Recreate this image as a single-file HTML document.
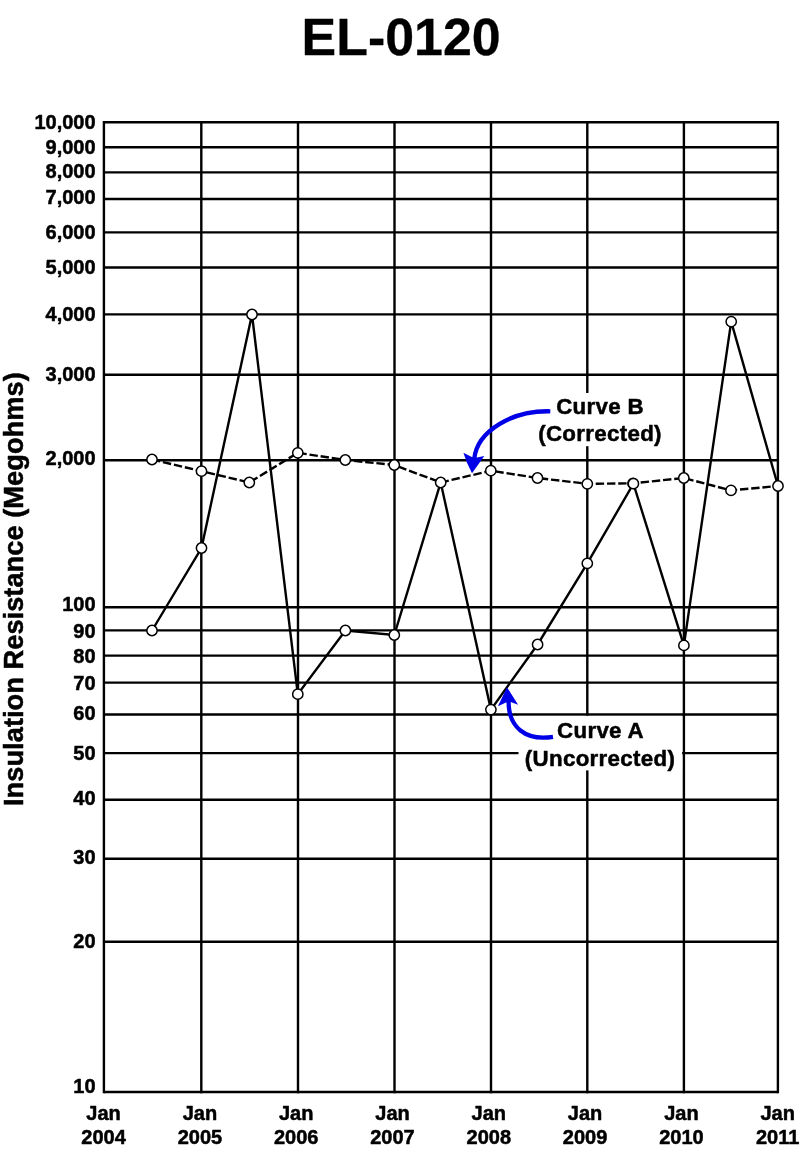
<!DOCTYPE html>
<html lang="en">
<head>
<meta charset="utf-8">
<title>EL-0120</title>
<style>
html,body{margin:0;padding:0;background:#fff;}
body{width:800px;height:1152px;overflow:hidden;}
svg{display:block;will-change:transform;}
text{font-family:"Liberation Sans",sans-serif;font-weight:bold;fill:#000;stroke:#000;stroke-width:0.5px;stroke-linejoin:round;}
.t{font-size:52.6px;stroke-width:0.3px;}
.y{font-size:20px;text-anchor:end;}
.x{font-size:20px;text-anchor:middle;}
.l{font-size:22.3px;text-anchor:middle;letter-spacing:0.32px;}
.ax{font-size:27.3px;text-anchor:middle;}
.g{stroke:#000;stroke-width:2.4;fill:none;}
.c{stroke:#000;stroke-width:2.4;fill:none;stroke-linejoin:miter;}
.p{stroke:#000;stroke-width:1.5;fill:#fff;}
.b{fill:#0000e6;}
.bs{stroke:#0000e6;stroke-width:4.3;fill:none;}
</style>
</head>
<body>
<svg width="800" height="1152" viewBox="0 0 800 1152">
<rect width="800" height="1152" fill="#fff"/>
<text class="t" transform="translate(401.1,54.6) scale(0.987,1)" text-anchor="middle">EL-0120</text>

<g class="g">
<line x1="103.9" y1="122.2" x2="777.9" y2="122.2"/>
<line x1="103.9" y1="147.2" x2="777.9" y2="147.2"/>
<line x1="103.9" y1="172.4" x2="777.9" y2="172.4"/>
<line x1="103.9" y1="199.0" x2="777.9" y2="199.0"/>
<line x1="103.9" y1="232.4" x2="777.9" y2="232.4"/>
<line x1="103.9" y1="267.5" x2="777.9" y2="267.5"/>
<line x1="103.9" y1="314.4" x2="777.9" y2="314.4"/>
<line x1="103.9" y1="374.7" x2="777.9" y2="374.7"/>
<line x1="103.9" y1="460.2" x2="777.9" y2="460.2"/>
<line x1="103.9" y1="607.2" x2="777.9" y2="607.2"/>
<line x1="103.9" y1="630.4" x2="777.9" y2="630.4"/>
<line x1="103.9" y1="655.6" x2="777.9" y2="655.6"/>
<line x1="103.9" y1="682.6" x2="777.9" y2="682.6"/>
<line x1="103.9" y1="714.5" x2="777.9" y2="714.5"/>
<line x1="103.9" y1="753.1" x2="777.9" y2="753.1"/>
<line x1="103.9" y1="799.7" x2="777.9" y2="799.7"/>
<line x1="103.9" y1="858.8" x2="777.9" y2="858.8"/>
<line x1="103.9" y1="941.7" x2="777.9" y2="941.7"/>
<line x1="103.9" y1="1092.0" x2="777.9" y2="1092.0"/>
<line x1="103.9" y1="121.0" x2="103.9" y2="1093.2"/>
<line x1="201.3" y1="121.0" x2="201.3" y2="1093.2"/>
<line x1="298.0" y1="121.0" x2="298.0" y2="1093.2"/>
<line x1="394.5" y1="121.0" x2="394.5" y2="1093.2"/>
<line x1="491.0" y1="121.0" x2="491.0" y2="1093.2"/>
<line x1="587.3" y1="121.0" x2="587.3" y2="1093.2"/>
<line x1="683.9" y1="121.0" x2="683.9" y2="1093.2"/>
<line x1="777.9" y1="121.0" x2="777.9" y2="1093.2"/>
</g>
<rect x="530" y="393" width="140" height="53.2" fill="#fff"/>
<rect x="518.5" y="715.9" width="163.6" height="54.5" fill="#fff"/>
<text class="y" x="95.6" y="128.8">10,000</text>
<text class="y" x="95.6" y="153.9">9,000</text>
<text class="y" x="95.6" y="178.3">8,000</text>
<text class="y" x="95.6" y="204.3">7,000</text>
<text class="y" x="95.6" y="239.0">6,000</text>
<text class="y" x="95.6" y="274.2">5,000</text>
<text class="y" x="95.6" y="321.1">4,000</text>
<text class="y" x="95.6" y="381.0">3,000</text>
<text class="y" x="95.6" y="465.2">2,000</text>
<text class="y" x="95.6" y="611.3">100</text>
<text class="y" x="95.6" y="638.0">90</text>
<text class="y" x="95.6" y="662.7">80</text>
<text class="y" x="95.6" y="689.5">70</text>
<text class="y" x="95.6" y="720.4">60</text>
<text class="y" x="95.6" y="759.8">50</text>
<text class="y" x="95.6" y="804.6">40</text>
<text class="y" x="95.6" y="864.0">30</text>
<text class="y" x="95.6" y="947.8">20</text>
<text class="y" x="95.6" y="1093.1">10</text>
<text class="x" x="103.6" y="1119.6">Jan</text><text class="x" x="103.6" y="1144.2">2004</text>
<text class="x" x="199.9" y="1119.6">Jan</text><text class="x" x="199.9" y="1144.2">2005</text>
<text class="x" x="296.2" y="1119.6">Jan</text><text class="x" x="296.2" y="1144.2">2006</text>
<text class="x" x="392.5" y="1119.6">Jan</text><text class="x" x="392.5" y="1144.2">2007</text>
<text class="x" x="488.8" y="1119.6">Jan</text><text class="x" x="488.8" y="1144.2">2008</text>
<text class="x" x="585.1" y="1119.6">Jan</text><text class="x" x="585.1" y="1144.2">2009</text>
<text class="x" x="681.4" y="1119.6">Jan</text><text class="x" x="681.4" y="1144.2">2010</text>
<text class="x" x="777.7" y="1119.6">Jan</text><text class="x" x="777.7" y="1144.2">2011</text>
<text class="ax" transform="translate(23.2,589.1) rotate(-90)">Insulation Resistance (Megohms)</text>
<polyline class="c" stroke-dasharray="8.4 2.845" points="152.0,459.5 201.5,471.2 249.3,482.5 297.8,452.8 345.3,460.0 394.3,465.0 440.7,482.5 490.8,470.7 537.5,478.0 587.3,483.8 633.0,483.3 683.8,478.0 731.0,490.4 778.0,486.0"/>
<polyline class="c" points="152.0,630.5 201.5,548.0 252.0,314.5 297.8,694.2 345.4,630.5 394.3,635.0 440.7,482.5 490.9,709.6 537.6,644.5 587.3,563.3 633.4,483.7 683.9,645.4 731.2,321.6 778.0,486.0"/>
<g class="p">
<circle cx="152.0" cy="459.5" r="5.15"/>
<circle cx="201.5" cy="471.2" r="5.15"/>
<circle cx="249.3" cy="482.5" r="5.15"/>
<circle cx="297.8" cy="452.8" r="5.15"/>
<circle cx="345.3" cy="460.0" r="5.15"/>
<circle cx="394.3" cy="465.0" r="5.15"/>
<circle cx="440.7" cy="482.5" r="5.15"/>
<circle cx="490.8" cy="470.7" r="5.15"/>
<circle cx="537.5" cy="478.0" r="5.15"/>
<circle cx="587.3" cy="483.8" r="5.15"/>
<circle cx="633.0" cy="483.3" r="5.15"/>
<circle cx="683.8" cy="478.0" r="5.15"/>
<circle cx="731.0" cy="490.4" r="5.15"/>
<circle cx="778.0" cy="486.0" r="5.15"/>
<circle cx="152.0" cy="630.5" r="5.15"/>
<circle cx="201.5" cy="548.0" r="5.15"/>
<circle cx="252.0" cy="314.5" r="5.15"/>
<circle cx="297.8" cy="694.2" r="5.15"/>
<circle cx="345.4" cy="630.5" r="5.15"/>
<circle cx="394.3" cy="635.0" r="5.15"/>
<circle cx="490.9" cy="709.6" r="5.15"/>
<circle cx="537.6" cy="644.5" r="5.15"/>
<circle cx="587.3" cy="563.3" r="5.15"/>
<circle cx="633.4" cy="483.7" r="5.15"/>
<circle cx="683.9" cy="645.4" r="5.15"/>
<circle cx="731.2" cy="321.6" r="5.15"/>
</g>
<path class="bs" d="M550.3,411.3 C513,410.3 477.1,430.5 474.2,459"/>
<path class="b" d="M472,473.2 Q466.5,463 463.4,452.8 L472.3,457.2 L477,457.6 L484.3,455.9 Z"/>
<path class="bs" d="M553,736.8 C526,741 508,728 508.6,700"/>
<path class="b" d="M507,687.3 L497.9,706.2 L506,702.4 L510.6,702 L518.1,704.7 Z"/>
<text class="l" x="600" y="413.6">Curve B</text><text class="l" x="600" y="441">(Corrected)</text>
<text class="l" x="600.5" y="738.1">Curve A</text><text class="l" x="600" y="765.6">(Uncorrected)</text>
</svg>
</body>
</html>
